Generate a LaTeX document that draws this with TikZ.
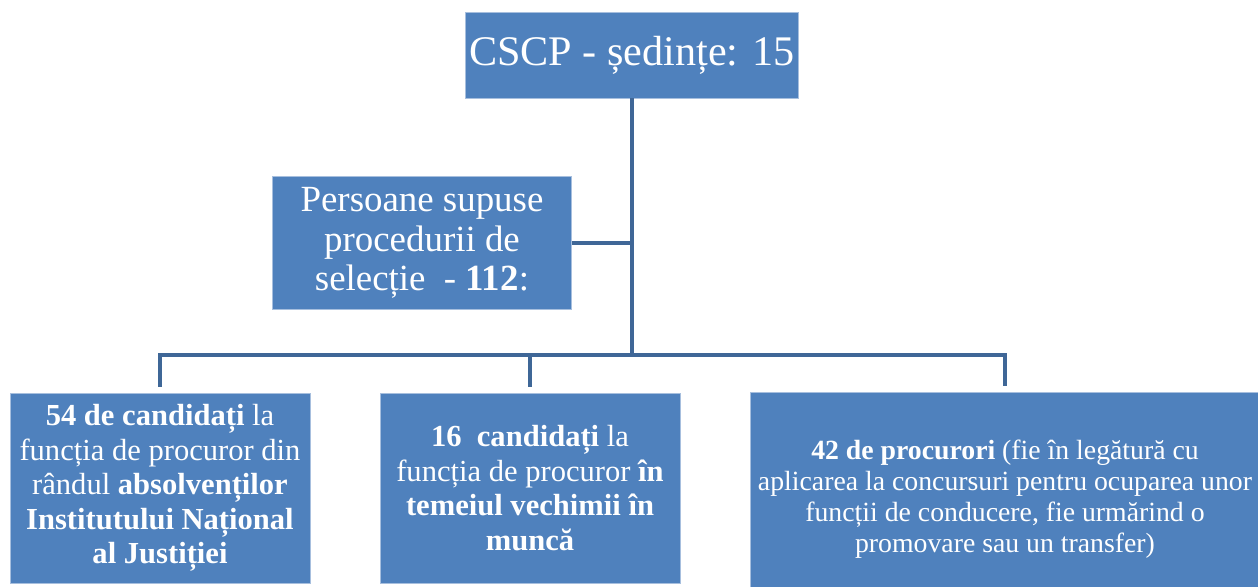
\documentclass[tikz,border=0pt]{standalone}
\usepackage{fontspec}
\setmainfont{Liberation Serif}
\usetikzlibrary{positioning}
\definecolor{boxblue}{HTML}{4F81BD}
\definecolor{boxedge}{HTML}{A7BFDE}
\definecolor{linkblue}{HTML}{3F6797}

\begin{document}
\begin{tikzpicture}[x=0.02cm,y=-0.02cm,
  blk/.style={draw=boxedge,fill=boxblue,text=white,align=center,inner sep=2pt},
  link/.style={draw=linkblue,line width=2.6pt}]
\useasboundingbox (0,0) rectangle (1258,587);

\node (cscp) at (632,55) [blk,minimum width=6.62cm,minimum height=1.72cm,font=\fontsize{24}{28}\selectfont] {CSCP - ședințe: 15};
\node (pers) at (422,243) [blk,minimum width=5.98cm,minimum height=2.66cm,font=\fontsize{21}{22.4}\selectfont] {Persoane supuse\\ procedurii de\\ selecție\ \ - \textbf{112}:};

\node (abs) at (160,488) [blk,minimum width=6cm,minimum height=3.8cm,font=\fontsize{17.4}{19.6}\selectfont] {\textbf{54 de candidați} la\\ funcția de procuror din\\ rândul \textbf{absolvenților}\\ \textbf{Institutului Național}\\ \textbf{al Justiției}};
\node (vech) at (530,488) [blk,minimum width=6cm,minimum height=3.8cm,font=\fontsize{17.4}{19.6}\selectfont] {\textbf{16\ \ candidați} la\\ funcția de procuror \textbf{în}\\ \textbf{temeiul vechimii în}\\ \textbf{muncă}};
\node (proc) at (1005,499) [blk,minimum width=10.2cm,minimum height=4.28cm,font=\fontsize{15.8}{17.6}\selectfont] {\textbf{42 de procurori} (fie în legătură cu\\ aplicarea la concursuri pentru ocuparea unor\\ funcții de conducere, fie urmărind o\\ promovare sau un transfer)};

\coordinate (mid) at (632,243);
\coordinate (bus) at (632,355);

\draw[link] (cscp.south) -- (bus);
\draw[link] (pers.east) -- (mid);
\foreach \n in {abs,vech,proc} {
\draw[link] (bus) -| ([yshift=3pt]\n.north);};
\end{tikzpicture}
\end{document}
